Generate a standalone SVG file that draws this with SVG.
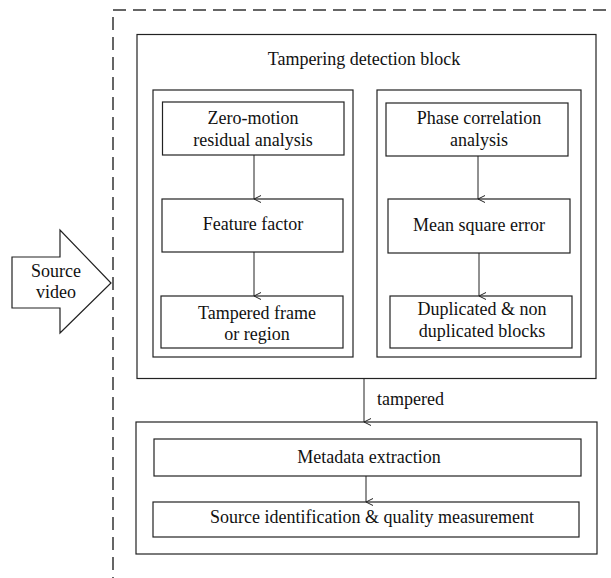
<svg xmlns="http://www.w3.org/2000/svg" width="611" height="578" viewBox="0 0 611 578">
<defs>
<marker id="arr" markerWidth="10" markerHeight="10" refX="5" refY="9" orient="auto" markerUnits="userSpaceOnUse" viewBox="0 0 10 10">
<path d="M1.5,2 L5,9 L8.5,2" fill="none" stroke="#222" stroke-width="1"/>
</marker>
<style>
.b{fill:#fff;stroke:#222;stroke-width:1.2}
.t{font-family:"Liberation Serif",serif;font-size:18px;fill:#111;text-anchor:middle}
.c{stroke:#222;stroke-width:1;fill:none}
</style>
</defs>
<rect width="611" height="578" fill="#fff"/>
<rect id="boundary" x="113" y="10" width="600" height="600" fill="none" stroke="#333" stroke-width="1.5" stroke-dasharray="13,7"/>
<g id="source">
<polygon class="b" points="12,257 60,257 60,230 111,283 60,333 60,308 12,308"/>
<text class="t" x="56" y="277">Source</text>
<text class="t" x="56" y="298">video</text>
</g>
<g id="tampering">
<rect class="b" x="137" y="34.5" width="459" height="344"/>
<text class="t" x="364" y="65">Tampering detection block</text>
</g>
<g id="leftpanel"><rect class="b" x="153" y="90" width="200" height="267"/></g>
<g id="rightpanel"><rect class="b" x="377" y="90" width="204" height="267"/></g>
<g id="zero">
<rect class="b" x="162.5" y="102" width="181.5" height="53"/>
<text class="t" x="253" y="124">Zero-motion</text>
<text class="t" x="253" y="146">residual analysis</text>
</g>
<g id="feature">
<rect class="b" x="162" y="199" width="181" height="53"/>
<text class="t" x="253" y="230">Feature factor</text>
</g>
<g id="tamperedframe">
<rect class="b" x="161" y="296" width="182" height="52"/>
<text class="t" x="257" y="319">Tampered frame</text>
<text class="t" x="257" y="340">or region</text>
</g>
<g id="phase">
<rect class="b" x="386" y="103" width="182" height="53"/>
<text class="t" x="479" y="124">Phase correlation</text>
<text class="t" x="479" y="146">analysis</text>
</g>
<g id="mse">
<rect class="b" x="388" y="199" width="182" height="54"/>
<text class="t" x="479" y="231">Mean square error</text>
</g>
<g id="dup">
<rect class="b" x="390" y="296" width="182" height="52"/>
<text class="t" x="482" y="315">Duplicated &amp; non</text>
<text class="t" x="482" y="337">duplicated blocks</text>
</g>
<g id="bottom"><rect class="b" x="136" y="422" width="461" height="132"/></g>
<g id="metadata">
<rect class="b" x="154" y="439" width="427" height="37"/>
<text class="t" x="369" y="463">Metadata extraction</text>
</g>
<g id="sourceid">
<rect class="b" x="153" y="502" width="426" height="35"/>
<text class="t" x="372" y="523">Source identification &amp; quality measurement</text>
</g>
<g id="connectors">
<line class="c" x1="254" y1="155" x2="254" y2="199" marker-end="url(#arr)"/>
<line class="c" x1="254" y1="252" x2="254" y2="296" marker-end="url(#arr)"/>
<line class="c" x1="478" y1="156" x2="478" y2="199" marker-end="url(#arr)"/>
<line class="c" x1="479" y1="253" x2="479" y2="296" marker-end="url(#arr)"/>
<line class="c" x1="364" y1="379" x2="364" y2="422" marker-end="url(#arr)"/>
<text class="t" x="377" y="405" style="text-anchor:start">tampered</text>
<line class="c" x1="366" y1="476" x2="366" y2="502" marker-end="url(#arr)"/>
</g>
</svg>
